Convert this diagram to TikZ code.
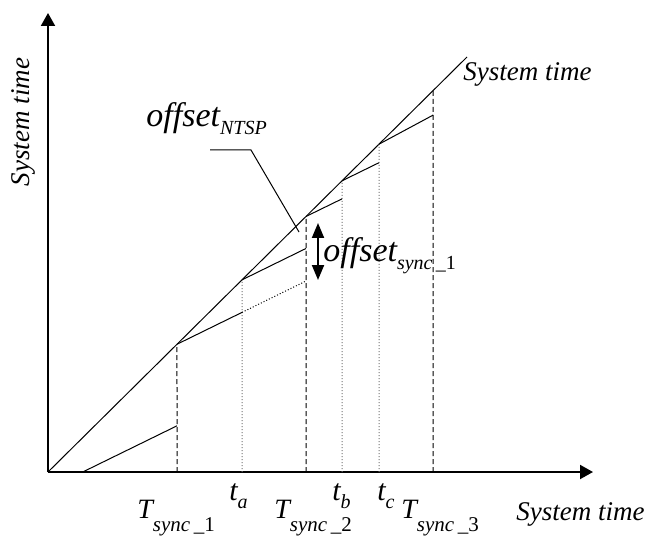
\documentclass[tikz,border=0pt]{standalone}
\usepackage{fontspec}
\setmainfont{Liberation Serif}
\usetikzlibrary{arrows.meta, calc}

\newcommand{\axsize}{\fontsize{13.5}{16}\selectfont}
\newcommand{\bigsize}{\fontsize{14}{17}\selectfont}
\newcommand{\subsize}{\fontsize{10.5}{12}\selectfont}
\newcommand{\tsync}[1]{{\bigsize T}\raisebox{-6.5pt}{\subsize sync\,\_\upshape #1}}
\newcommand{\tpt}[1]{{\fontsize{15}{18}\selectfont t}\raisebox{-4pt}{\fontsize{10}{12}\selectfont #1}}
\newcommand{\offs}[1]{{\fontsize{17}{20}\selectfont offset}\raisebox{-4pt}{\fontsize{10}{12}\selectfont #1}}

\begin{document}
\begin{tikzpicture}[x=0.5pt, y=-0.5pt, font=\itshape]
        \tikzstyle{axis} = [line width=1pt, -{Triangle[width=7pt,length=6.5pt]}]
        \tikzstyle{clock} = [line width=0.5pt]
        \tikzstyle{lag} = [line width=0.5pt, dash pattern=on 0.5pt off 1pt]
        \tikzstyle{syncline} = [line width=0.5pt, dash pattern=on 2.5pt off 1.5pt]
        \tikzstyle{tline} = [line width=0.5pt, black!55, dash pattern=on 0.5pt off 1pt]
        \tikzstyle{lbl} = [inner sep=0pt, anchor=base west]
        \tikzstyle{gap} = [line width=1pt, {Triangle[width=6pt,length=7.5pt]}-{Triangle[width=6pt,length=7.5pt]}]

        \useasboundingbox (0,0) rectangle (646,539);

        \coordinate (O) at (48,472);
        \coordinate (ytip) at (48,13);
        \coordinate (xtip) at (593,472);
        \coordinate (dend) at (467,57);

        \coordinate (s1b) at (177,472);
        \coordinate (tab) at (242,472);
        \coordinate (s2b) at (306,472);
        \coordinate (tbb) at (342,472);
        \coordinate (tcb) at (379,472);
        \coordinate (s3b) at (433,472);
        \coordinate (s1t) at ($(O)!{(177-48)/419}!(dend)$);
        \coordinate (tat) at ($(O)!{(242-48)/419}!(dend)$);
        \coordinate (s2t) at ($(O)!{(306-48)/419}!(dend)$);
        \coordinate (tbt) at ($(O)!{(342-48)/419}!(dend)$);
        \coordinate (tct) at ($(O)!{(379-48)/419}!(dend)$);
        \coordinate (s3t) at ($(O)!{(433-48)/419}!(dend)$);

        \coordinate (c0s) at (82.7,472);
        \coordinate (c0e) at ($(c0s)+(94.3,-46.2)$);
        \coordinate (c1e) at ($(s1t)+(65,-31.85)$);
        \coordinate (c1d) at ($(s1t)+(129,-63.2)$);
        \coordinate (c2e) at ($(tat)+(64,-31.4)$);
        \coordinate (c3e) at ($(s2t)+(36,-17.6)$);
        \coordinate (c4e) at ($(tbt)+(37,-18.1)$);
        \coordinate (c5e) at ($(tct)+(54,-29)$);

        \draw [axis] (O) -- (ytip);
        \draw [axis] (O) -- (xtip);
        \draw [clock] (O) -- (dend);

        \draw [syncline] (s1b) -- (s1t);
        \draw [tline] (tab) -- (tat);
        \draw [syncline] (s2b) -- (s2t);
        \draw [tline] (tbb) -- (tbt);
        \draw [tline] (tcb) -- (tct);
        \draw [syncline] (s3b) -- (s3t);

        \draw [clock] (c0s) -- (c0e);
        \draw [clock] (s1t) -- (c1e);
        \draw [lag] (c1e) -- (c1d);
        \draw [clock] (tat) -- (c2e);
        \draw [clock] (s2t) -- (c3e);
        \draw [clock] (tbt) -- (c4e);
        \draw [clock] (tct) -- (c5e);

        \node [rotate=90, inner sep=0pt] (ylabel) at (23,122) {\axsize System time};
        \node [lbl] (xlabel) at (516,520) {\axsize System time};
        \node [lbl] (dlabel) at (463,81) {\axsize System time};

        \node [lbl] (ls1) at (137,518) {\tsync{1}};
        \node [lbl] (ls2) at (274,518) {\tsync{2}};
        \node [lbl] (ls3) at (401,518) {\tsync{3}};
        \node [lbl] (lta) at (229,500) {\tpt{a}};
        \node [lbl] (ltb) at (332,500) {\tpt{b}};
        \node [lbl] (ltc) at (377,500) {\tpt{c}};

        \node [lbl] (ntsp) at (146,127) {\offs{NTSP}};
        \coordinate (lead) at (210,150);
        \coordinate (leadk) at (251,150);
        \coordinate (leadend) at (299,232);
        \draw [clock] (lead) -- (leadk) -- (leadend);

        \coordinate (offtop) at (318,223);
        \coordinate (offbot) at (318,280);
        \draw [gap] (offtop) -- (offbot);
        \node [lbl] (nsync) at (323,262) {\offs{sync\,\_\upshape 1}};
\end{tikzpicture}
\end{document}
